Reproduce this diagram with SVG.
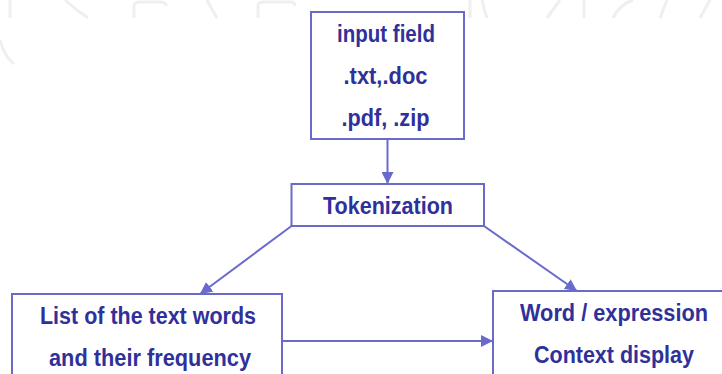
<svg xmlns="http://www.w3.org/2000/svg" width="722" height="374" viewBox="0 0 722 374">
<style>
.box{fill:#ffffff;stroke:#6a6acc;stroke-width:2}
.t{font-family:"Liberation Sans",Arial,sans-serif;font-weight:bold;font-size:23px;fill:#30309a;text-anchor:middle}
.c{stroke:#6a6acc;stroke-width:2;fill:none;marker-end:url(#ah)}
.bg{stroke:#efefef;stroke-width:3;fill:none}
</style>
<defs>
<marker id="ah" viewBox="0 0 10 10" refX="10" refY="5" markerWidth="6" markerHeight="6" markerUnits="strokeWidth" orient="auto">
<path d="M0,0 L10,5 L0,10 z" fill="#6a6acc"/>
</marker>
</defs>
<rect width="722" height="374" fill="#ffffff"/>
<g id="background">
<path class="bg" d="M0,40 Q4,56 14,64"/>
<path class="bg" d="M10,0 V18"/>
<path class="bg" d="M65,0 Q76,10 88,18"/>
<path class="bg" d="M134,18 V6 Q134,2 140,2 H160 Q166,2 166,6"/>
<path class="bg" d="M207,0 Q212,10 217,18"/>
<path class="bg" d="M258,18 V6 Q258,2 264,2 H290 Q295,2 295,6"/>
<path class="bg" d="M470,0 V18"/>
<path class="bg" d="M482,0 Q484,10 487,18"/>
<path class="bg" d="M560,0 L547,18"/>
<path class="bg" d="M584,0 V18"/>
<path class="bg" d="M613,18 Q620,4 633,0"/>
<path class="bg" d="M667,0 L660,18"/>
<path class="bg" d="M710,0 L700,18"/>
</g>
<g id="connectors">
<line class="c" x1="387.5" y1="139" x2="387.5" y2="184"/>
<line class="c" x1="291.5" y1="226" x2="200" y2="294"/>
<line class="c" x1="484" y1="226" x2="577" y2="291"/>
<line class="c" x1="282" y1="341" x2="493" y2="341"/>
</g>
<g id="input">
<rect class="box" x="311" y="12" width="153" height="127"/>
<text class="t" x="386" y="42" textLength="98" lengthAdjust="spacingAndGlyphs">input field</text>
<text class="t" x="385.5" y="84" textLength="84" lengthAdjust="spacingAndGlyphs">.txt,.doc</text>
<text class="t" x="385.5" y="126" textLength="88" lengthAdjust="spacingAndGlyphs">.pdf, .zip</text>
</g>
<g id="tokenization">
<rect class="box" x="291.5" y="184" width="192.5" height="42"/>
<text class="t" x="388" y="214" textLength="130" lengthAdjust="spacingAndGlyphs">Tokenization</text>
</g>
<g id="list">
<rect class="box" x="12" y="294" width="270" height="90"/>
<text class="t" x="148" y="324" textLength="216" lengthAdjust="spacingAndGlyphs">List of the text words</text>
<text class="t" x="150" y="366" textLength="202" lengthAdjust="spacingAndGlyphs">and their frequency</text>
</g>
<g id="context">
<rect class="box" x="493" y="291" width="240" height="93"/>
<text class="t" x="614" y="321" textLength="188" lengthAdjust="spacingAndGlyphs">Word / expression</text>
<text class="t" x="614" y="363" textLength="160" lengthAdjust="spacingAndGlyphs">Context display</text>
</g>
</svg>
